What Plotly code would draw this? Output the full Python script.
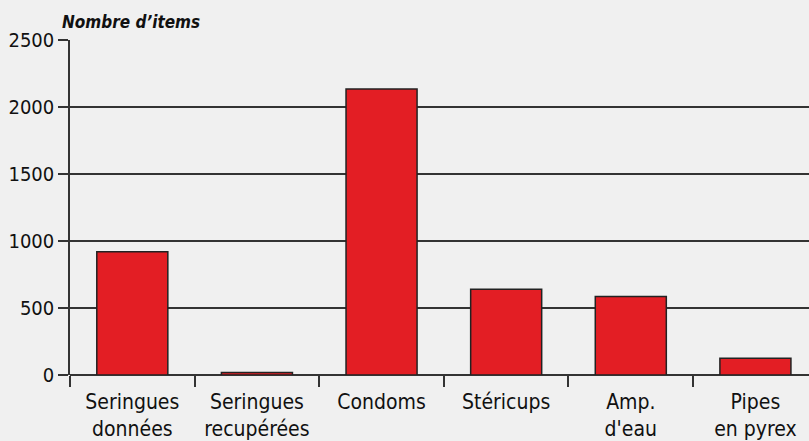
import plotly.graph_objects as go

categories = ["Seringues<br>données", "Seringues<br>recupérées", "Condoms", "Stéricups", "Amp.<br>d'eau", "Pipes<br>en pyrex"]
values = [920, 18, 2135, 640, 585, 125]
y_ticks = [0, 500, 1000, 1500, 2000, 2500]

font_family = "DejaVu Sans Condensed, Liberation Sans Narrow, Arial Narrow, sans-serif"

fig = go.Figure(go.Bar(
    x=list(range(len(categories))),
    y=values,
    width=0.57,
    marker=dict(color="#e31e24", line=dict(color="#222222", width=1.5)),
))

fig.update_layout(
    width=809, height=441,
    margin=dict(l=70, r=0, t=40, b=66),
    paper_bgcolor="#f0f0f0",
    plot_bgcolor="#f0f0f0",
    showlegend=False,
    font=dict(family=font_family, size=20, color="#111111"),
    annotations=[dict(
        text="<b><i>Nombre d’items</i></b>", x=0, xref="paper", xanchor="left",
        xshift=-10, y=1, yref="paper", yanchor="bottom", yshift=6, showarrow=False,
        font=dict(family=font_family, size=17, color="#111111"),
    )],
)

fig.update_xaxes(
    range=[-0.5, 5.43],
    tickmode="array", tickvals=list(range(len(categories))), ticktext=categories,
    showgrid=False, zeroline=False,
    showline=False,
    ticks="",
    ticklabelstandoff=12,
    automargin=False,
    tickfont=dict(size=21),
)
fig.update_xaxes(
    minor=dict(tickmode="array", tickvals=[i - 0.5 for i in range(len(categories) + 1)],
               ticks="outside", ticklen=11, tickcolor="#333333", tickwidth=1.5, showgrid=False),
)

fig.update_yaxes(
    range=[0, 2500],
    tickmode="array", tickvals=y_ticks,
    showgrid=True, gridcolor="#333333", gridwidth=1.5,
    zeroline=True, zerolinecolor="#333333", zerolinewidth=1.5,
    showline=True, linecolor="#333333", linewidth=1.5,
    ticks="outside", ticklen=10, tickcolor="#333333", tickwidth=1.5,
    automargin=False,
    tickfont=dict(size=20),
)

fig.write_html(
    "out.html",
    config={"displayModeBar": False},
    post_script="document.body.style.margin='0';document.body.style.background='#f0f0f0';",
)
